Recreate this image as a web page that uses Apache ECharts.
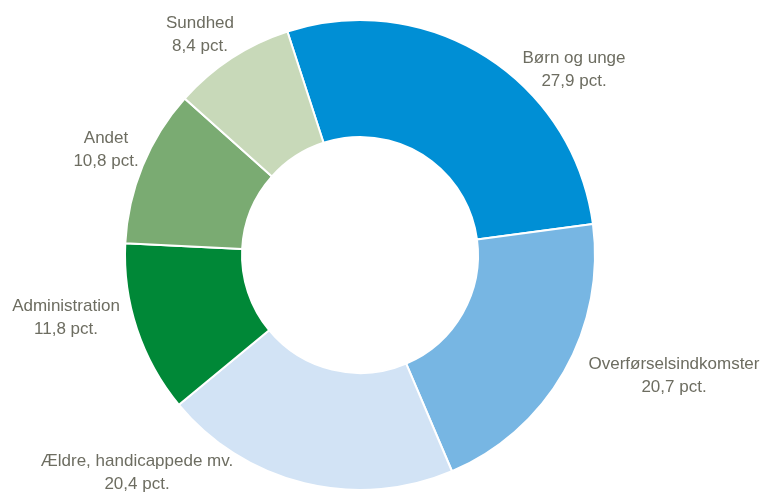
<!DOCTYPE html>
<html>
<head>
<meta charset="utf-8">
<script src="https://cdn.jsdelivr.net/npm/echarts@6/dist/echarts.min.js"></script>
<style>
  html, body { margin: 0; padding: 0; background: #fff; }
  #chart { width: 764px; height: 499px; }
</style>
</head>
<body>
<div id="chart"></div>
<script>
// udgifter fordelt på område (pct.)
const categories = ['Børn og unge', 'Overførselsindkomster', 'Ældre, handicappede mv.', 'Administration', 'Andet', 'Sundhed'];
const values = [27.9, 20.7, 20.4, 11.8, 10.8, 8.4];
const colors = ['#008fd5', '#77b6e3', '#d2e3f5', '#008837', '#7aab72', '#c8d9b9'];

// where each label sits (centre of the two text lines)
const labelAt = [[574, 70], [674, 376], [137, 473], [66, 318], [106, 150], [200, 35]];

const chart = echarts.init(document.getElementById('chart'));

chart.setOption({
    animation: false,
    series: [
        {
            type: 'pie',
            center: [360, 255],
            radius: [118, 235],
            startAngle: 108,
            clockwise: true,
            avoidLabelOverlap: false,
            itemStyle: { borderColor: '#fff', borderWidth: 2 },
            label: {
                show: true,
                position: 'outside',
                fontFamily: '"Liberation Sans", Arial, sans-serif',
                fontSize: 17,
                lineHeight: 23,
                color: '#6d6d61',
                align: 'center',
                formatter: p => p.name + '\n' + p.value.toFixed(1).replace('.', ',') + ' pct.'
            },
            labelLine: { show: false },
            labelLayout: p => ({
                x: labelAt[p.dataIndex][0],
                y: labelAt[p.dataIndex][1],
                align: 'center',
                verticalAlign: 'middle'
            }),
            data: categories.map((c, i) => ({
                name: c,
                value: values[i],
                itemStyle: { color: colors[i] }
            }))
        }
    ]
});
</script>
</body>
</html>
